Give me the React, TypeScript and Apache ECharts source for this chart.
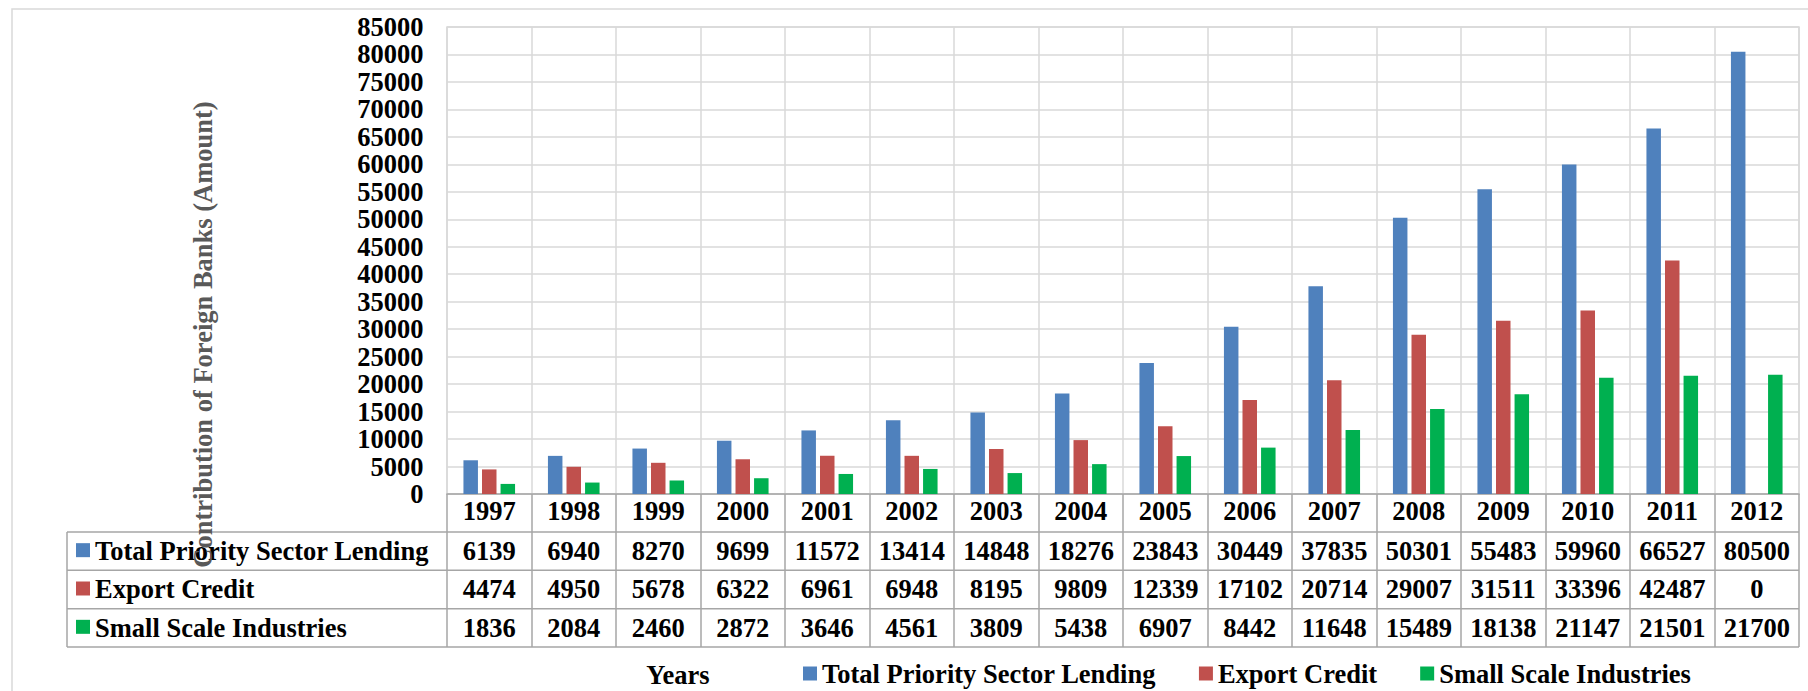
import React, { useEffect, useRef } from "react";
import * as echarts from "echarts";

const years = ["1997", "1998", "1999", "2000", "2001", "2002", "2003", "2004", "2005", "2006", "2007", "2008", "2009", "2010", "2011", "2012"];
const totalPSL = [6139, 6940, 8270, 9699, 11572, 13414, 14848, 18276, 23843, 30449, 37835, 50301, 55483, 59960, 66527, 80500];
const exportCredit = [4474, 4950, 5678, 6322, 6961, 6948, 8195, 9809, 12339, 17102, 20714, 29007, 31511, 33396, 42487, 0];
const smallScale = [1836, 2084, 2460, 2872, 3646, 4561, 3809, 5438, 6907, 8442, 11648, 15489, 18138, 21147, 21501, 21700];
const seriesNames = ["Total Priority Sector Lending", "Export Credit", "Small Scale Industries"];
const seriesColors = ["#4f81bd", "#c0504d", "#00b050"];
const seriesData = [totalPSL, exportCredit, smallScale];
const yTitle = "Contribution of Foreign Banks (Amount)";
const xTitle = "Years";

const FONT = '"Liberation Serif", "Times New Roman", serif';
const FS = 26.5;
const TABLE_LINE = "#a6a6a6";
const GRID_LINE = "#d9d9d9";

export default function App() {
  const ref = useRef<HTMLDivElement>(null);
  useEffect(() => {
    if (!ref.current) return;
    const chart = echarts.init(ref.current, null, { renderer: "svg" });
    const gridTop = 27;
    const gridBottomPx = 494;
    const gridLeft = 447;
    const gridRightPx = 1799;
    const tableLeft = 67;
    const rowH = 38.33;
    const yearRowBottom = 532;
    const tableBottom = yearRowBottom + rowH * 3;

    chart.setOption({
      animation: false,
      backgroundColor: "#ffffff",
      textStyle: { fontFamily: FONT },
      grid: {
        left: gridLeft,
        top: gridTop,
        right: 1808 - gridRightPx,
        bottom: 691 - gridBottomPx,
        show: true,
        borderColor: GRID_LINE,
        borderWidth: 1.5,
      },
      legend: {
        data: seriesNames,
        left: 798,
        top: 655,
        itemWidth: 14,
        itemHeight: 14,
        itemGap: 43,
        icon: "rect",
        textStyle: { fontFamily: FONT, fontWeight: "bold", fontSize: FS, color: "#000" },
      },
      xAxis: {
        type: "category",
        data: years,
        boundaryGap: true,
        axisLine: { show: true, lineStyle: { color: TABLE_LINE, width: 1.5 } },
        axisTick: { show: true, length: tableBottom - gridBottomPx, lineStyle: { color: TABLE_LINE, width: 1.5 } },
        axisLabel: {
          margin: 17,
          verticalAlign: "middle",
          fontFamily: FONT,
          fontWeight: "bold",
          fontSize: FS,
          color: "#000",
          interval: 0,
        },
        splitLine: { show: true, lineStyle: { color: GRID_LINE, width: 1.5 } },
      },
      yAxis: {
        type: "value",
        min: 0,
        max: 85000,
        interval: 5000,
        axisLine: { show: false },
        axisTick: { show: false },
        axisLabel: {
          margin: 23.5,
          fontFamily: FONT,
          fontWeight: "bold",
          fontSize: FS,
          color: "#000",
          formatter: (v: number) => String(v),
        },
        splitLine: { show: true, lineStyle: { color: GRID_LINE, width: 1.5 } },
      },
      series: seriesNames.map((name, i) => ({
        name,
        type: "bar",
        data: seriesData[i],
        barWidth: 14.5,
        barGap: "28%",
        itemStyle: { color: seriesColors[i] },
      })),
    });

    const xs = years.map((_, i) => chart.convertToPixel({ xAxisIndex: 0 }, i) as number);
    const graphics: any[] = [];
    graphics.push({
      type: "rect",
      shape: { x: 12, y: 9, width: 1830, height: 720 },
      style: { fill: "none", stroke: GRID_LINE, lineWidth: 1.5 },
      silent: true,
    });
    for (let r = 0; r <= 3; r++) {
      const y = yearRowBottom + rowH * r;
      graphics.push({
        type: "line",
        shape: { x1: tableLeft, y1: y, x2: gridRightPx, y2: y },
        style: { stroke: TABLE_LINE, lineWidth: 1.5 },
        silent: true,
      });
    }
    graphics.push({
      type: "line",
      shape: { x1: tableLeft, y1: yearRowBottom, x2: tableLeft, y2: tableBottom },
      style: { stroke: TABLE_LINE, lineWidth: 1.5 },
      silent: true,
    });
    seriesNames.forEach((name, r) => {
      const cy = yearRowBottom + rowH * r + rowH / 2;
      graphics.push({
        type: "rect",
        shape: { x: 76, y: cy - 8, width: 14, height: 14 },
        style: { fill: seriesColors[r] },
        silent: true,
      });
      graphics.push({
        type: "text",
        x: 95,
        y: cy,
        style: {
          text: name,
          fontFamily: FONT,
          fontWeight: "bold",
          fontSize: FS,
          fill: "#000",
          textAlign: "left",
          textVerticalAlign: "middle",
        },
        silent: true,
      });
      seriesData[r].forEach((v, i) => {
        graphics.push({
          type: "text",
          x: xs[i],
          y: cy,
          style: {
            text: String(v),
            fontFamily: FONT,
            fontWeight: "bold",
            fontSize: FS,
            fill: "#000",
            textAlign: "center",
            textVerticalAlign: "middle",
          },
          silent: true,
        });
      });
    });
    graphics.push({
      type: "text",
      x: 203,
      y: 334.5,
      rotation: Math.PI / 2,
      style: {
        text: yTitle,
        fontFamily: FONT,
        fontWeight: "bold",
        fontSize: FS,
        fill: "#595959",
        textAlign: "center",
        textVerticalAlign: "middle",
      },
      silent: true,
    });
    graphics.push({
      type: "text",
      x: 678,
      y: 675,
      style: {
        text: xTitle,
        fontFamily: FONT,
        fontWeight: "bold",
        fontSize: FS,
        fill: "#000",
        textAlign: "center",
        textVerticalAlign: "middle",
      },
      silent: true,
    });
    chart.setOption({ graphic: graphics });

    return () => chart.dispose();
  }, []);
  return (
    <div
      ref={ref}
      style={{ position: "fixed", left: 0, top: 0, width: 1808, height: 691, background: "#fff" }}
    />
  );
}
